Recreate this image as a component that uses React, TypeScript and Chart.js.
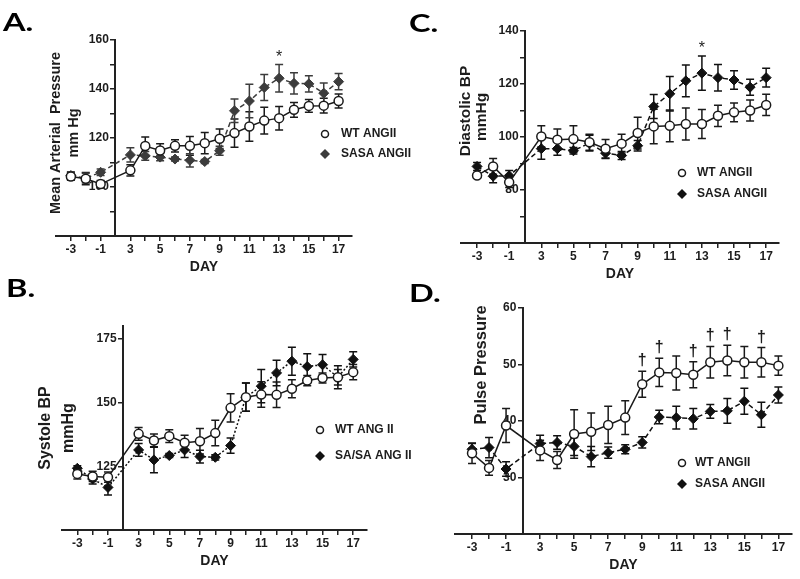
import React, { useEffect, useRef } from "react";
import { Chart, registerables } from "chart.js";

Chart.register(...registerables);

// ---------- data ----------
const DAYS = [-3, -2, -1, 3, 4, 5, 6, 7, 8, 9, 10, 11, 12, 13, 14, 15, 16, 17];
const DAY_LABELS = [-3, -1, 3, 5, 7, 9, 11, 13, 15, 17];

// A. Mean arterial pressure
const MAP_WT = [104.3, 103.4, 101.2, 106.8, 116.7, 114.9, 116.8, 116.8, 117.9, 119.7, 122.0, 124.7, 127.1, 128.1, 131.5, 133.1, 133.2, 135.1];
const MAP_WT_SEM = [1.5, 2.5, 1.5, 2.3, 3.7, 2.8, 2.5, 3.8, 4.3, 4.0, 5.8, 6.0, 5.5, 4.8, 3.0, 2.6, 3.0, 2.9];
const MAP_SASA = [104.7, 103.6, 106.0, 113.1, 112.7, 112.2, 111.4, 110.9, 110.4, 114.8, 131.1, 135.1, 140.6, 144.4, 142.3, 142.1, 138.3, 143.0];
const MAP_SASA_SEM = [1.5, 2.0, 1.3, 2.9, 1.8, 1.5, 0.8, 2.7, 0.8, 1.8, 4.8, 6.8, 5.3, 5.6, 4.3, 3.3, 4.1, 3.3];

// B. Systolic BP
const SBP_WT = [122.0, 121.0, 120.7, 137.7, 135.1, 136.8, 134.2, 134.8, 138.0, 147.9, 152.1, 153.1, 153.0, 155.4, 158.6, 159.6, 159.9, 161.9];
const SBP_WT_SEM = [2.0, 2.0, 2.0, 2.5, 2.5, 2.5, 3.0, 5.0, 5.0, 5.5, 5.5, 5.0, 5.0, 3.5, 2.0, 2.0, 3.0, 3.0];
const SBP_SASA = [124.2, 120.0, 116.7, 131.4, 127.5, 129.2, 131.4, 128.8, 128.5, 133.1, 152.1, 156.4, 161.6, 166.2, 164.1, 164.8, 159.9, 166.9];
const SBP_SASA_SEM = [1.0, 2.0, 3.0, 2.5, 5.0, 0.8, 3.0, 2.5, 1.0, 3.0, 5.5, 6.5, 5.0, 5.5, 5.0, 4.0, 4.5, 3.0];

// C. Diastolic BP
const DBP_WT = [85.5, 88.9, 82.9, 100.2, 99.0, 99.2, 98.0, 95.6, 97.5, 101.5, 104.0, 104.2, 104.9, 104.9, 108.0, 109.3, 110.0, 112.1];
const DBP_WT_SEM = [1.0, 3.0, 2.0, 4.0, 4.0, 5.0, 3.0, 3.5, 3.5, 6.0, 6.5, 6.0, 6.0, 5.5, 4.0, 3.5, 4.0, 4.0];
const DBP_SASA = [88.9, 85.2, 85.4, 95.6, 95.6, 94.8, 97.7, 93.9, 93.0, 96.7, 111.5, 116.3, 121.2, 124.1, 122.4, 121.5, 118.8, 122.4];
const DBP_SASA_SEM = [1.5, 2.5, 2.0, 4.0, 2.5, 1.2, 3.0, 2.0, 1.5, 2.0, 4.5, 6.5, 6.0, 6.5, 5.0, 3.5, 3.0, 3.5];

// D. Pulse pressure
const PP_WT = [34.3, 31.7, 39.2, 34.8, 33.1, 37.7, 38.1, 39.3, 40.6, 46.5, 48.6, 48.5, 48.2, 50.4, 50.7, 50.4, 50.4, 49.8];
const PP_WT_SEM = [1.8, 1.3, 3.0, 1.8, 1.5, 4.3, 3.3, 3.3, 3.0, 2.3, 2.5, 3.0, 2.3, 2.8, 2.7, 2.8, 2.6, 1.7];
const PP_SASA = [35.0, 35.3, 31.5, 36.0, 36.2, 35.5, 33.7, 34.4, 35.0, 36.2, 40.7, 40.6, 40.4, 41.7, 41.8, 43.5, 41.1, 44.6];
const PP_SASA_SEM = [1.0, 1.8, 1.3, 1.5, 1.2, 1.6, 1.8, 1.0, 0.8, 1.0, 1.2, 2.0, 1.8, 1.2, 2.2, 2.3, 2.2, 1.4];

const MAP_STAR_DAYS = [13];
const DBP_STAR_DAYS = [13];
const PP_DAGGER_DAYS = [9, 10, 12, 13, 14, 16];

// ---------- helpers ----------
const FONT = "'Liberation Sans', Arial, Helvetica, sans-serif";
const INK = "#1c1c1c";
const Y_AXIS_SLOT = 3; // the empty slot between day -1 and day 3 where the y axis crosses
const dayToPos = (d: number) => (d < 0 ? d + 3 : d + 1);
const posToDay = (p: number) => (p <= 2 ? p - 3 : p - 1);

type TitleLine = { text: string; x: number; y: number };
type PanelCfg = {
  letter: string;
  letterX: number;
  letterY: number;
  left: number;
  top: number;
  width: number;
  height: number;
  pad: { left: number; right: number; top: number; bottom: number };
  xMax: number;
  yMin: number;
  yMax: number;
  yTicks: number[];
  yLabels: number[];
  wt: number[];
  wtErr: number[];
  sa: number[];
  saErr: number[];
  saColor: string;
  saDash: number[];
  wtLabel: string;
  saLabel: string;
  legend: { x: number; y1: number; y2: number; tx: number };
  titleSize: number;
  yTitle: TitleLine[];
  mark: null | { series: number; days: number[]; symbol: string; bold: boolean };
};

const PANELS: PanelCfg[] = [
  {
    letter: "A.", letterX: 3, letterY: 9,
    left: 0, top: 0, width: 420, height: 290,
    pad: { left: 56, right: 68, top: 40, bottom: 14 },
    xMax: 18.9, yMin: 80, yMax: 160,
    yTicks: [80, 90, 100, 110, 120, 130, 140, 150, 160], yLabels: [100, 120, 140, 160],
    wt: MAP_WT, wtErr: MAP_WT_SEM, sa: MAP_SASA, saErr: MAP_SASA_SEM,
    saColor: "#3c3c3c", saDash: [5, 3],
    wtLabel: "WT ANGII", saLabel: "SASA ANGII",
    legend: { x: 325, y1: 134, y2: 154, tx: 341 },
    titleSize: 14.5,
    yTitle: [
      { text: "Mean Arterial  Pressure", x: 56, y: 133 },
      { text: "mm Hg", x: 74, y: 133 },
    ],
    mark: { series: 1, days: MAP_STAR_DAYS, symbol: "*", bold: false },
  },
  {
    letter: "C.", letterX: 409, letterY: 10,
    left: 400, top: 0, width: 400, height: 290,
    pad: { left: 61, right: 21, top: 31, bottom: 7 },
    xMax: 18.8, yMin: 60, yMax: 140,
    yTicks: [60, 70, 80, 90, 100, 110, 120, 130, 140], yLabels: [80, 100, 120, 140],
    wt: DBP_WT, wtErr: DBP_WT_SEM, sa: DBP_SASA, saErr: DBP_SASA_SEM,
    saColor: "#111111", saDash: [5, 3],
    wtLabel: "WT ANGII", saLabel: "SASA ANGII",
    legend: { x: 282, y1: 173, y2: 194, tx: 297 },
    titleSize: 15.5,
    yTitle: [
      { text: "Diastolic BP", x: 66, y: 111 },
      { text: "mmHg", x: 82, y: 117 },
    ],
    mark: { series: 1, days: DBP_STAR_DAYS, symbol: "*", bold: false },
  },
  {
    letter: "B.", letterX: 6, letterY: 275,
    left: 0, top: 290, width: 420, height: 289,
    pad: { left: 62, right: 53, top: 36, bottom: 9 },
    xMax: 18.9, yMin: 100, yMax: 180,
    yTicks: [100, 125, 150, 175], yLabels: [125, 150, 175],
    wt: SBP_WT, wtErr: SBP_WT_SEM, sa: SBP_SASA, saErr: SBP_SASA_SEM,
    saColor: "#111111", saDash: [2, 2],
    wtLabel: "WT ANG II", saLabel: "SA/SA ANG II",
    legend: { x: 320, y1: 140, y2: 166, tx: 335 },
    titleSize: 16,
    yTitle: [
      { text: "Systole BP", x: 46, y: 138 },
      { text: "mmHg", x: 69, y: 138 },
    ],
    mark: null,
  },
  {
    letter: "D.", letterX: 409, letterY: 280,
    left: 400, top: 290, width: 400, height: 289,
    pad: { left: 55, right: 8, top: 18, bottom: 5 },
    xMax: 18.8, yMin: 20, yMax: 60,
    yTicks: [20, 30, 40, 50, 60], yLabels: [30, 40, 50, 60],
    wt: PP_WT, wtErr: PP_WT_SEM, sa: PP_SASA, saErr: PP_SASA_SEM,
    saColor: "#111111", saDash: [5, 3],
    wtLabel: "WT ANGII", saLabel: "SASA ANGII",
    legend: { x: 282, y1: 173, y2: 194, tx: 295 },
    titleSize: 16.5,
    yTitle: [{ text: "Pulse Pressure", x: 81, y: 75 }],
    mark: { series: 0, days: PP_DAGGER_DAYS, symbol: "\u2020", bold: true },
  },
];

// ---------- plugins ----------
const errorBars = {
  id: "errorBars",
  beforeDatasetsDraw(chart: any) {
    const { ctx } = chart;
    const xs = chart.scales.x;
    const ys = chart.scales.y;
    chart.data.datasets.forEach((ds: any) => {
      const errs: number[] = ds.errors;
      if (!errs) return;
      ctx.save();
      ctx.strokeStyle = ds.borderColor;
      ctx.lineWidth = 1.5;
      ds.data.forEach((p: any, j: number) => {
        const x = xs.getPixelForValue(p.x);
        const yT = ys.getPixelForValue(p.y + errs[j]);
        const yB = ys.getPixelForValue(p.y - errs[j]);
        ctx.beginPath();
        ctx.moveTo(x, yT);
        ctx.lineTo(x, yB);
        ctx.moveTo(x - 4, yT);
        ctx.lineTo(x + 4, yT);
        ctx.moveTo(x - 4, yB);
        ctx.lineTo(x + 4, yB);
        ctx.stroke();
      });
      ctx.restore();
    });
  },
};

function makeDecor(cfg: PanelCfg) {
  return {
    id: "decor" + cfg.letter,
    afterDraw(chart: any) {
      const { ctx } = chart;
      const xs = chart.scales.x;
      const ys = chart.scales.y;
      ctx.save();
      // y-axis titles
      ctx.fillStyle = INK;
      ctx.font = `bold ${cfg.titleSize}px ${FONT}`;
      ctx.textAlign = "center";
      ctx.textBaseline = "middle";
      cfg.yTitle.forEach((t) => {
        ctx.save();
        ctx.translate(t.x, t.y);
        ctx.rotate(-Math.PI / 2);
        ctx.fillText(t.text, 0, 0);
        ctx.restore();
      });
      // legend
      const [wtDs, saDs] = chart.data.datasets;
      const L = cfg.legend;
      ctx.lineWidth = 1.5;
      ctx.strokeStyle = wtDs.borderColor;
      ctx.fillStyle = "#fff";
      ctx.beginPath();
      ctx.arc(L.x, L.y1, 3.5, 0, Math.PI * 2);
      ctx.fill();
      ctx.stroke();
      ctx.fillStyle = saDs.borderColor;
      ctx.beginPath();
      ctx.moveTo(L.x, L.y2 - 5);
      ctx.lineTo(L.x + 5, L.y2);
      ctx.lineTo(L.x, L.y2 + 5);
      ctx.lineTo(L.x - 5, L.y2);
      ctx.closePath();
      ctx.fill();
      ctx.fillStyle = INK;
      ctx.font = `bold 12px ${FONT}`;
      ctx.textAlign = "left";
      ctx.fillText(wtDs.label, L.tx, L.y1);
      ctx.fillText(saDs.label, L.tx, L.y2);
      // significance marks
      if (cfg.mark) {
        const m = cfg.mark;
        const ds = chart.data.datasets[m.series];
        ctx.font = `${m.bold ? "bold " : ""}16px ${FONT}`;
        ctx.textAlign = "center";
        ctx.textBaseline = "alphabetic";
        m.days.forEach((d) => {
          const j = DAYS.indexOf(d);
          const p = ds.data[j];
          const x = xs.getPixelForValue(p.x);
          const y = ys.getPixelForValue(p.y + ds.errors[j]);
          ctx.fillText(m.symbol, x, y - (m.bold ? 6 : 3));
        });
      }
      ctx.restore();
    },
  };
}

// ---------- components ----------
function Panel({ cfg }: { cfg: PanelCfg }) {
  const ref = useRef<HTMLCanvasElement | null>(null);
  useEffect(() => {
    if (!ref.current) return;
    const pts = (vals: number[]) => DAYS.map((d, i) => ({ x: dayToPos(d), y: vals[i] }));
    const tickFont = { family: FONT, size: 12, weight: "bold" as const };
    const chart = new Chart(ref.current, {
      type: "line",
      data: {
        datasets: [
          {
            label: cfg.wtLabel,
            data: pts(cfg.wt),
            errors: cfg.wtErr,
            borderColor: "#1a1a1a",
            borderWidth: 1.5,
            pointStyle: "circle",
            pointRadius: 4.5,
            pointBackgroundColor: "#ffffff",
            pointBorderColor: "#1a1a1a",
            pointBorderWidth: 1.5,
            tension: 0,
          } as any,
          {
            label: cfg.saLabel,
            data: pts(cfg.sa),
            errors: cfg.saErr,
            borderColor: cfg.saColor,
            borderWidth: 1.5,
            borderDash: cfg.saDash,
            pointStyle: "rectRot",
            pointRadius: 5,
            pointBackgroundColor: cfg.saColor,
            pointBorderColor: cfg.saColor,
            pointBorderWidth: 1,
            tension: 0,
          } as any,
        ],
      },
      options: {
        responsive: false,
        animation: false,
        events: [],
        layout: { padding: cfg.pad },
        plugins: { legend: { display: false }, tooltip: { enabled: false } },
        scales: {
          x: {
            type: "linear",
            min: -1,
            max: cfg.xMax,
            afterBuildTicks: (s: any) => {
              s.ticks = DAYS.map((d) => ({ value: dayToPos(d) }));
            },
            afterFit: (s: any) => {
              s.height = 40;
            },
            ticks: {
              autoSkip: false,
              maxRotation: 0,
              padding: 1,
              color: INK,
              font: tickFont,
              callback: (v: any) => {
                const d = posToDay(Number(v));
                return DAY_LABELS.includes(d) ? String(d) : "";
              },
            },
            grid: { drawOnChartArea: false, drawTicks: true, tickLength: 5, color: "#222", lineWidth: 1.5 },
            border: { color: "#222", width: 2 },
            title: { display: true, text: "DAY", color: INK, padding: 0, font: { family: FONT, size: 14, weight: "bold" } },
          },
          y: {
            type: "linear",
            position: { x: Y_AXIS_SLOT } as any,
            min: cfg.yMin,
            max: cfg.yMax,
            afterBuildTicks: (s: any) => {
              s.ticks = cfg.yTicks.map((v) => ({ value: v }));
            },
            ticks: {
              padding: 2,
              color: INK,
              font: tickFont,
              // trailing spaces keep the right-aligned labels clear of the axis tick marks
              callback: (v: any) => (cfg.yLabels.includes(Number(v)) ? String(v) + "  " : ""),
            },
            grid: { drawOnChartArea: false, drawTicks: true, tickLength: 4, color: "#222", lineWidth: 1.5 },
            border: { color: "#222", width: 2 },
          },
        },
      } as any,
      plugins: [errorBars, makeDecor(cfg)],
    });
    return () => chart.destroy();
  }, [cfg]);
  return (
    <canvas
      ref={ref}
      width={cfg.width}
      height={cfg.height}
      style={{ position: "absolute", left: cfg.left, top: cfg.top, width: cfg.width, height: cfg.height }}
    />
  );
}

export default function App() {
  return (
    <div style={{ position: "absolute", left: 0, top: 0, width: 800, height: 579, background: "#fff", overflow: "hidden" }}>
      {PANELS.map((p) => (
        <Panel key={p.letter} cfg={p} />
      ))}
      {PANELS.map((p) => (
        <div
          key={"L" + p.letter}
          style={{
            position: "absolute",
            left: p.letterX,
            top: p.letterY,
            fontFamily: "Lato, 'Open Sans', sans-serif",
            fontWeight: 700,
            fontSize: 25,
            lineHeight: "25px",
            color: "#000",
            transform: "scaleX(1.3)",
            transformOrigin: "left top",
            whiteSpace: "nowrap",
          }}
        >
          {p.letter}
        </div>
      ))}
    </div>
  );
}
